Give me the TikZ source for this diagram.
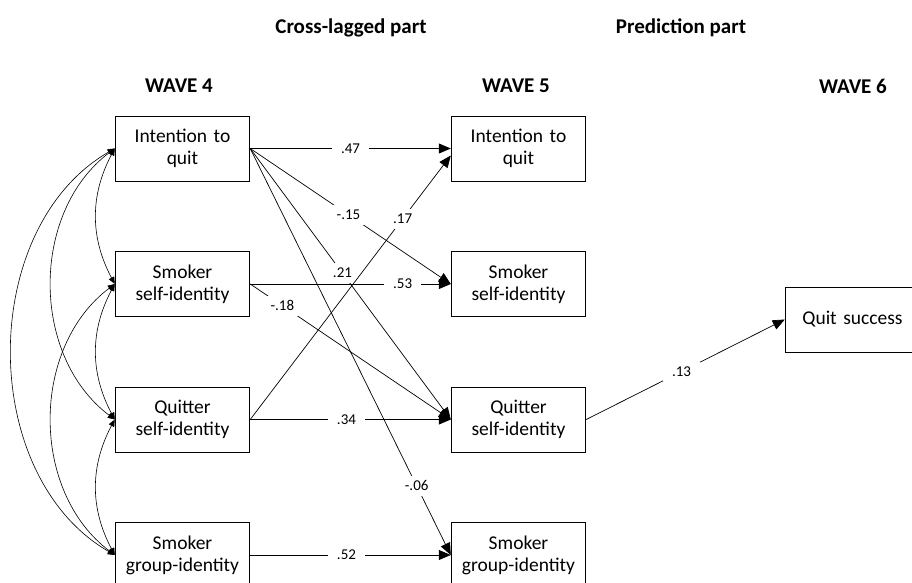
\documentclass[tikz,border=0pt]{standalone}
\usepackage{fontspec}
\setmainfont{Carlito}
\usetikzlibrary{arrows.meta,positioning}
\tikzset{
    %Define standard arrow tip
    >={Triangle[length=12pt,width=10pt]},
    %Define style for boxes
    block/.style={
           rectangle,
           draw=black,
           line width=0.8pt,
           minimum width=133pt,
           minimum height=65pt,
           text width=128pt,
           align=center,
           font=\fontsize{19.5}{22}\selectfont},
    % Define arrow style
    arrow/.style={
           ->,
           line width=0.7pt,
           },
    % Define style for the curved covariances
    cov/.style={
           <->,
           >={Triangle[length=7pt,width=6pt]},
           line width=0.6pt,
           },
    % Define style for the path coefficients
    coef/.style={
           anchor=center,
           fill=white,
           inner xsep=9pt,
           inner ysep=5pt,
           font=\fontsize{15}{17}\selectfont},
    heading/.style={font=\bfseries\fontsize{21}{24}\selectfont}
}
\begin{document}
\begin{tikzpicture}[x=1pt, y=-1pt, node distance=135.5pt]
    \useasboundingbox (0,0) rectangle (912,583);
    \node [heading] (cross) at (351,28) {Cross-lagged part};
    \node [heading] (pred) at (681,28) {Prediction part};
    \node [heading] (wave4) at (179,86) {WAVE 4};
    \node [heading] (wave5) at (516,86) {WAVE 5};
    \node [heading] (wave6) at (853,86) {WAVE 6};

    \node [block] (I4) at (182.5,148.5) {Intention to\\quit};
    \node [block, below of=I4] (S4) {Smoker\\self-identity};
    \node [block, below of=S4] (Q4) {Quitter\\self-identity};
    \node [block, below of=Q4] (G4) {Smoker\\group-identity};
    \node [block] (I5) at (518.5,148.5) {Intention to\\quit};
    \node [block, below of=I5] (S5) {Smoker\\self-identity};
    \node [block, below of=S5] (Q5) {Quitter\\self-identity};
    \node [block, below of=Q5] (G5) {Smoker\\group-identity};
    \node [block] (QS) at (852.5,319.5) {Quit success};

	\path (I4.east) edge[arrow] node[coef, pos=0.5] {.47} (I5.west);
	\path (I4.east) edge[arrow] node[coef, pos=0.49] {-.15} (S5.west);
	\path (I4.east) edge[arrow] node[coef, pos=0.46] {.21} (Q5.west);
	\path (I4.east) edge[arrow] node[coef, pos=0.83] {-.06} (G5.west);
	\path (S4.east) edge[arrow] node[coef, pos=0.76] {.53} (S5.west);
	\path (S4.east) edge[arrow] node[coef, pos=0.16] {-.18} (Q5.west);
	\path (Q4.east) edge[arrow] node[coef, pos=0.76] {.17} ([yshift=-7pt]I5.west);
	\path (Q4.east) edge[arrow] node[coef, pos=0.48] {.34} (Q5.west);
	\path (G4.east) edge[arrow] node[coef, pos=0.48] {.52} (G5.west);
	\path (Q5.east) edge[arrow] node[coef, pos=0.48] {.13} (QS.west);

	\path (I4.west) edge[cov, bend right=28] (S4.west);
	\path (S4.west) edge[cov, bend right=28] (Q4.west);
	\path (Q4.west) edge[cov, bend right=28] (G4.west);
	\path (I4.west) edge[cov, bend right=53] (Q4.west);
	\path (S4.west) edge[cov, bend right=53] (G4.west);
	\path (I4.west) edge[cov, bend right=60] (G4.west);
\end{tikzpicture}
\end{document}
